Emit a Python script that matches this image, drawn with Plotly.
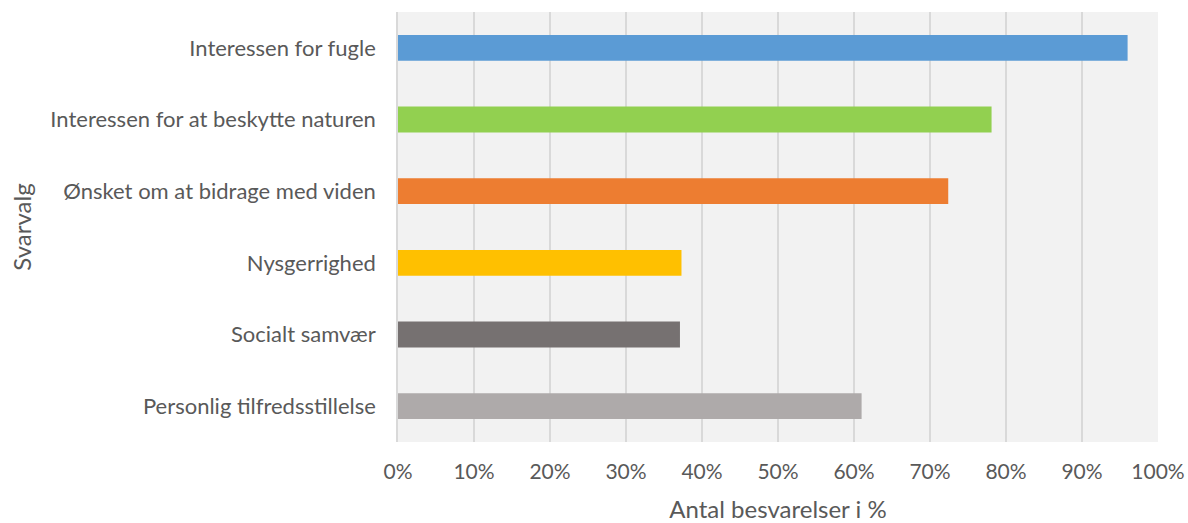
import plotly.graph_objects as go

categories = ["Interessen for fugle", "Interessen for at beskytte naturen",
              "Ønsket om at bidrage med viden", "Nysgerrighed",
              "Socialt samvær", "Personlig tilfredsstillelse"]
values = [0.96, 0.781, 0.724, 0.373, 0.371, 0.61]
colors = ["#5B9BD5", "#92D050", "#ED7D31", "#FFC000", "#767171", "#AEAAAA"]
tick_vals = [i / 10 for i in range(11)]
tick_text = [f"{i*10}%" for i in range(11)]

FONT = "Lato"
fig = go.Figure(go.Bar(
    y=categories, x=values, orientation="h",
    marker=dict(color=colors, line=dict(width=0)),
    width=0.36,
))
fig.update_layout(
    width=1188, height=523,
    margin=dict(l=398, r=30, t=12, b=81),
    paper_bgcolor="white", plot_bgcolor="#F2F2F2",
    font=dict(family=FONT, size=22, color="#595959"),
    showlegend=False,
    bargap=0.64,
)
fig.update_xaxes(
    range=[0, 1], tickvals=tick_vals, ticktext=tick_text,
    tickfont=dict(size=21),
    showgrid=True, gridcolor="#D9D9D9", gridwidth=1.5,
    zeroline=False, showline=False,
    ticks="outside", ticklen=11, tickcolor="rgba(0,0,0,0)",
    title=dict(text="Antal besvarelser i %", font=dict(size=24, color="#595959"), standoff=20),
    automargin=False,
)
fig.update_yaxes(
    categoryorder="array", categoryarray=categories[::-1],
    range=[-0.5, 5.5],
    showgrid=False, zeroline=False, showline=True, linecolor="#D9D9D9", linewidth=1.5,
    ticks="outside", ticklen=16, tickcolor="rgba(0,0,0,0)",
    title=dict(text="Svarvalg", font=dict(size=24, color="#595959"), standoff=12),
    automargin=False,
)
fig.write_html("out.html", config={"displayModeBar": False},
               post_script="document.body.style.margin='0';document.body.style.overflow='hidden';")
